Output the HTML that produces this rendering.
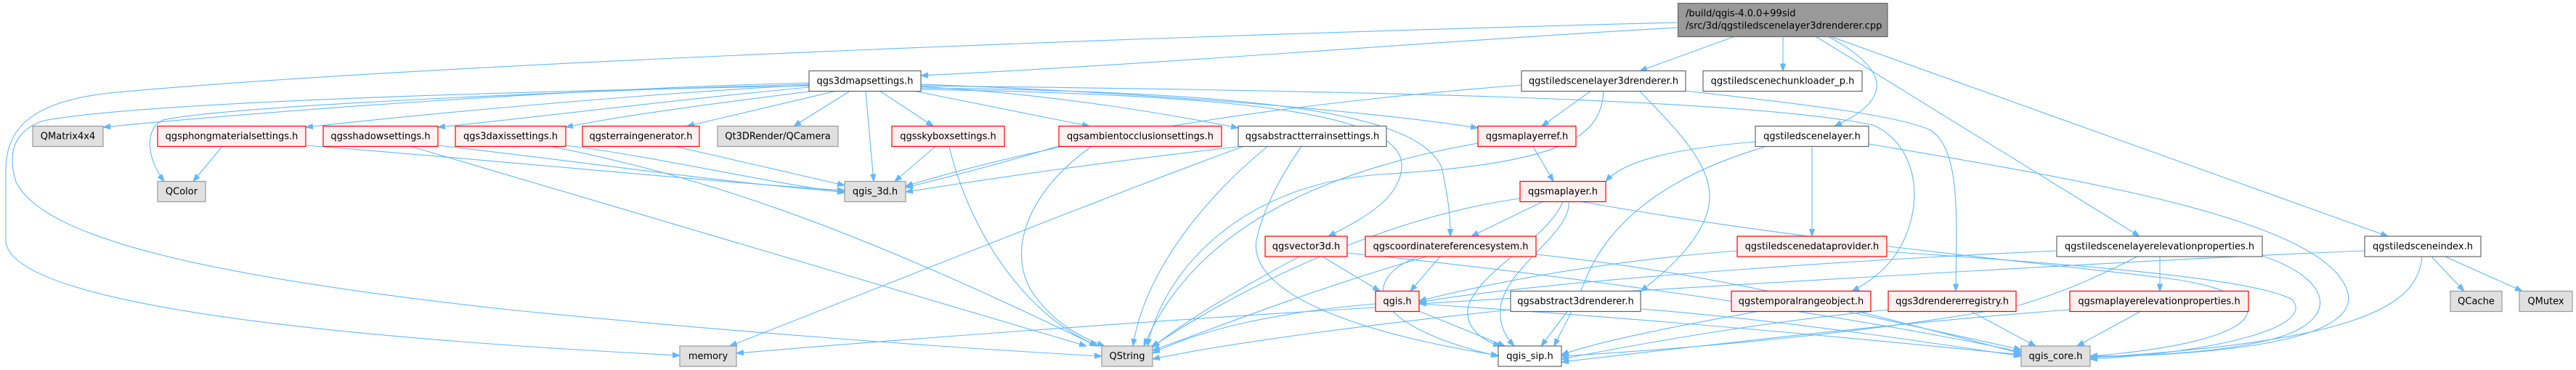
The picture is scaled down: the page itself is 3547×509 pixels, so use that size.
<!DOCTYPE html>
<html>
<head>
<meta charset="utf-8">
<style>
html,body{margin:0;padding:0;background:#fff;}
body{width:3547px;height:509px;overflow:hidden;}
svg{display:block;}
text{font-family:"DejaVu Sans","Liberation Sans",sans-serif;font-size:13px;fill:#000;}
</style>
</head>
<body>
<svg width="3547" height="509" viewBox="0 0 3547 509" xmlns="http://www.w3.org/2000/svg">
<defs>
<marker id="a" markerWidth="12" markerHeight="9" refX="10" refY="4" orient="auto" markerUnits="userSpaceOnUse">
<path d="M0,0.3 L10,4 L0,7.7 z" fill="#63b8ff" stroke="#63b8ff" stroke-width="1"/>
</marker>
</defs>
<g fill="none" stroke="#63b8ff" stroke-width="1.1" marker-end="url(#a)">
<!-- root -->
<path d="M2310,31 C1700,46 600,86 150,128 C45,140 8,175 8,235 L8,330 C8,405 330,458 936,489"/>
<path d="M2310,38 C2000,55 1600,88 1268,104"/>
<path d="M2389,50 L2258,97.5"/>
<path d="M2455,50 L2455,97.5"/>
<path d="M2517,50 C2610,100 2600,140 2526,173.5"/>
<path d="M2500,50 L2946,325"/>
<path d="M2520,50 L3288,325"/>
<!-- qgs3dmapsettings.h -->
<path d="M1114,114 C800,122 400,150 142,175"/>
<path d="M1114,117 C900,128 600,155 421,175"/>
<path d="M1114,120 C950,135 750,160 603,175"/>
<path d="M1118,125.5 C1000,140 850,160 779,175"/>
<path d="M1150,125.5 L946,173.5"/>
<path d="M1170,125.5 L1093,173.5"/>
<path d="M1192,125.5 L1203,249.5"/>
<path d="M1212,125.5 L1285,173.5"/>
<path d="M1260,125.5 L1500,173.5"/>
<path d="M1268,119 C1450,130 1600,155 1705,176"/>
<path d="M1268,116 C1600,128 1900,155 2035,176"/>
<path d="M1114,116 C700,128 300,148 225,165 C200,175 200,215 226,249.5"/>
<path d="M1114,118 C700,126 200,140 60,166 C18,180 10,212 22,250 C60,330 300,382 700,426 C1000,456 1300,478 1517,490"/>
<path d="M1268,121 C1700,126 1950,150 1985,230 C1995,275 1997,300 1997,325"/>
<path d="M1268,123 C1700,130 1925,155 1930,225 C1932,270 1880,300 1829,325"/>
<path d="M1268,118 C1800,124 2400,134 2579,172 C2625,192 2645,245 2632,300 C2620,350 2590,380 2550,400.5"/>
<!-- phong -->
<path d="M306,201.5 L266,249.5"/>
<path d="M421,200 C700,222 1000,252 1163,262"/>
<!-- shadow -->
<path d="M603,200 C800,222 1000,252 1163,264"/>
<path d="M566,201.5 L1496,476"/>
<!-- axis -->
<path d="M779,200 C900,215 1050,250 1163,265"/>
<path d="M760,201.5 C950,240 1150,300 1510,476"/>
<!-- terrain -->
<path d="M930,201.5 L1163,255"/>
<!-- skybox -->
<path d="M1288,201.5 L1232,249.5"/>
<path d="M1307,201.5 C1330,300 1400,430 1512,476"/>
<!-- ambient -->
<path d="M1460,200 C1380,225 1300,245 1247,258"/>
<path d="M1503,201.5 C1420,260 1385,340 1420,400 C1450,445 1490,465 1521,476"/>
<!-- abstract terrain -->
<path d="M1712,201 C1500,225 1350,248 1247,264"/>
<path d="M1712,201.5 C1550,260 1250,380 1005,476"/>
<path d="M1792,201.5 C1765,240 1740,285 1730,330 C1720,390 1820,450 2063,489"/>
<path d="M1745,201.5 C1650,280 1575,380 1560,476"/>
<!-- maplayerref -->
<path d="M2111,201.5 L2139,249.5"/>
<path d="M2035,197 C1850,230 1650,300 1575,476"/>
<!-- tiledscenelayer3drenderer -->
<path d="M2095,117 C1800,140 1500,180 1247,256"/>
<path d="M2190,125.5 L2123,173.5"/>
<path d="M2258,125.5 C2300,170 2354,220 2354,270 C2354,320 2300,370 2259,400.5"/>
<path d="M2321,125 C2500,145 2620,160 2660,180 C2700,210 2694,300 2693,400.5"/>
<path d="M2208,125.5 C2205,190 2150,225 1900,240 C1700,255 1600,380 1580,476"/>
<!-- tiledscenelayer -->
<path d="M2417,195 C2300,205 2235,222 2211,249.5"/>
<path d="M2495,201.5 L2495,325"/>
<path d="M2573,198 C2850,245 3200,300 3232,400 C3255,470 3050,488 2878,491"/>
<path d="M2432,201.5 C2300,240 2220,300 2185,380 C2165,430 2150,455 2140,476"/>
<!-- maplayer -->
<path d="M2124,277.5 L2026,325"/>
<path d="M2152,277.5 C2130,330 2040,370 2022,420 C2015,450 2040,468 2066,476"/>
<path d="M2160,277.5 C2165,320 2070,370 2066,425 C2064,450 2075,465 2085,476"/>
<path d="M2178,277.5 C2500,335 2850,365 3000,385 C3150,410 3130,470 2878,490"/>
<path d="M2093,273 C1900,300 1700,400 1585,478"/>
<!-- vector3d -->
<path d="M1821,353 L1900,400.5"/>
<path d="M1855,348 C2100,372 2500,425 2783,484"/>
<path d="M1789,353 C1700,400 1620,450 1587,478"/>
<!-- CRS -->
<path d="M1983,353 L1942,400.5"/>
<path d="M2115,350 C2400,380 2600,440 2783,486"/>
<path d="M1964,353 C1800,400 1650,460 1587,482"/>
<path d="M1953,353 C1880,380 1870,445 2063,490"/>
<!-- qgis.h -->
<path d="M1954,428 L2072,476"/>
<path d="M1954,418 C2300,440 2600,470 2783,488"/>
<path d="M1894,418 C1750,430 1650,455 1587,486"/>
<path d="M1894,423 C1600,440 1200,470 1014,486"/>
<!-- abstract3drenderer -->
<path d="M2158,428.5 L2122,476"/>
<path d="M2080,426 C1900,445 1700,470 1587,494"/>
<path d="M2259,425 C2450,440 2650,470 2783,490"/>
<!-- dataprovider -->
<path d="M2598,346 C2800,360 3100,380 3156,412 C3190,450 3050,485 2878,494"/>
<path d="M2392,345 C2200,360 2050,390 1954,414"/>
<!-- temporal -->
<path d="M2543,428.5 L2783,481"/>
<path d="M2420,428.5 C2300,450 2200,470 2150,488"/>
<!-- registry -->
<path d="M2714,428.5 L2803,476"/>
<path d="M2612,425 C2450,440 2300,465 2150,494"/>
<!-- maplayerelevationproperties -->
<path d="M2947,428.5 L2860,476"/>
<path d="M2850,426 C2600,445 2350,475 2150,498"/>
<!-- tiledscenelayerelevationproperties -->
<path d="M2974,353 L2974,400.5"/>
<path d="M3115,352 C3200,380 3225,430 3150,460 C3080,485 2950,490 2878,490"/>
<path d="M2943,353 C2870,390 2830,405 2780,420 C2600,455 2350,478 2150,490"/>
<path d="M2832,345 C2500,360 2100,390 1954,416"/>
<!-- tiledsceneindex -->
<path d="M3335,353 C3330,420 3250,470 2878,492"/>
<path d="M3348,353 L3393,400.5"/>
<path d="M3367,353 L3473,400.5"/>
<path d="M3256,345 C3000,355 2500,385 1954,418"/>
</g>

<!-- nodes -->
<g stroke-width="1.2">
<!-- root -->
<rect x="2310.5" y="4.5" width="288.5" height="46" fill="#999999" stroke="#666666"/>
<!-- R1 -->
<rect x="1114" y="97.5" width="154" height="28" fill="#ffffff" stroke="#666666"/>
<rect x="2095" y="97.5" width="226" height="28" fill="#ffffff" stroke="#666666"/>
<rect x="2345" y="97.5" width="219" height="28" fill="#ffffff" stroke="#666666"/>
<!-- R2 -->
<rect x="45" y="173.5" width="97" height="28" fill="#e0e0e0" stroke="#999999"/>
<rect x="217" y="173.5" width="204" height="28" fill="#fff0f0" stroke="#ff0000"/>
<rect x="445" y="173.5" width="158" height="28" fill="#fff0f0" stroke="#ff0000"/>
<rect x="627" y="173.5" width="152" height="28" fill="#fff0f0" stroke="#ff0000"/>
<rect x="802" y="173.5" width="161" height="28" fill="#fff0f0" stroke="#ff0000"/>
<rect x="988" y="173.5" width="166" height="28" fill="#e0e0e0" stroke="#999999"/>
<rect x="1228" y="173.5" width="155" height="28" fill="#fff0f0" stroke="#ff0000"/>
<rect x="1458" y="173.5" width="224" height="28" fill="#fff0f0" stroke="#ff0000"/>
<rect x="1705" y="173.5" width="204" height="28" fill="#ffffff" stroke="#666666"/>
<rect x="2035" y="173.5" width="135" height="28" fill="#fff0f0" stroke="#ff0000"/>
<rect x="2417" y="173.5" width="156" height="28" fill="#ffffff" stroke="#666666"/>
<!-- R3 -->
<rect x="217" y="249.5" width="66" height="28" fill="#e0e0e0" stroke="#999999"/>
<rect x="1163" y="249.5" width="84" height="28" fill="#e0e0e0" stroke="#999999"/>
<rect x="2093" y="249.5" width="118" height="28" fill="#fff0f0" stroke="#ff0000"/>
<!-- R4 -->
<rect x="1742" y="325" width="113" height="28" fill="#fff0f0" stroke="#ff0000"/>
<rect x="1880" y="325" width="235" height="28" fill="#fff0f0" stroke="#ff0000"/>
<rect x="2392" y="325" width="206" height="28" fill="#fff0f0" stroke="#ff0000"/>
<rect x="2832" y="325" width="283" height="28" fill="#ffffff" stroke="#666666"/>
<rect x="3256" y="325" width="160" height="28" fill="#ffffff" stroke="#666666"/>
<!-- R5 -->
<rect x="1894" y="400.5" width="60" height="28" fill="#fff0f0" stroke="#ff0000"/>
<rect x="2080" y="400.5" width="179" height="28" fill="#ffffff" stroke="#666666"/>
<rect x="2384" y="400.5" width="192" height="28" fill="#fff0f0" stroke="#ff0000"/>
<rect x="2600" y="400.5" width="176" height="28" fill="#fff0f0" stroke="#ff0000"/>
<rect x="2850" y="400.5" width="246" height="28" fill="#fff0f0" stroke="#ff0000"/>
<rect x="3374" y="400.5" width="71" height="28" fill="#e0e0e0" stroke="#999999"/>
<rect x="3469" y="400.5" width="73" height="28" fill="#e0e0e0" stroke="#999999"/>
<!-- R6 -->
<rect x="936" y="476" width="78" height="28" fill="#e0e0e0" stroke="#999999"/>
<rect x="1517" y="476" width="70" height="28" fill="#e0e0e0" stroke="#999999"/>
<rect x="2063" y="476" width="87" height="28" fill="#ffffff" stroke="#666666"/>
<rect x="2783" y="476" width="95" height="28" fill="#e0e0e0" stroke="#999999"/>
</g>

<g>
<text x="2321" y="22.5">/build/qgis-4.0.0+99sid</text>
<text x="2321" y="39.5">/src/3d/qgstiledscenelayer3drenderer.cpp</text>
</g>
<g text-anchor="middle">
<text x="1191" y="115.5">qgs3dmapsettings.h</text>
<text x="2208" y="115.5">qgstiledscenelayer3drenderer.h</text>
<text x="2454.5" y="115.5">qgstiledscenechunkloader_p.h</text>

<text x="93.5" y="191.5">QMatrix4x4</text>
<text x="319" y="191.5">qgsphongmaterialsettings.h</text>
<text x="524" y="191.5">qgsshadowsettings.h</text>
<text x="703" y="191.5">qgs3daxissettings.h</text>
<text x="882.5" y="191.5">qgsterraingenerator.h</text>
<text x="1071" y="191.5">Qt3DRender/QCamera</text>
<text x="1305.5" y="191.5">qgsskyboxsettings.h</text>
<text x="1570" y="191.5">qgsambientocclusionsettings.h</text>
<text x="1807" y="191.5">qgsabstractterrainsettings.h</text>
<text x="2102.5" y="191.5">qgsmaplayerref.h</text>
<text x="2495" y="191.5">qgstiledscenelayer.h</text>

<text x="250" y="267.5">QColor</text>
<text x="1205" y="267.5">qgis_3d.h</text>
<text x="2152" y="267.5">qgsmaplayer.h</text>

<text x="1798.5" y="343">qgsvector3d.h</text>
<text x="1997.5" y="343">qgscoordinatereferencesystem.h</text>
<text x="2495" y="343">qgstiledscenedataprovider.h</text>
<text x="2973.5" y="343">qgstiledscenelayerelevationproperties.h</text>
<text x="3336" y="343">qgstiledsceneindex.h</text>

<text x="1924" y="418.5">qgis.h</text>
<text x="2169.5" y="418.5">qgsabstract3drenderer.h</text>
<text x="2480" y="418.5">qgstemporalrangeobject.h</text>
<text x="2688" y="418.5">qgs3drendererregistry.h</text>
<text x="2973" y="418.5">qgsmaplayerelevationproperties.h</text>
<text x="3409.5" y="418.5">QCache</text>
<text x="3505.5" y="418.5">QMutex</text>

<text x="975" y="494">memory</text>
<text x="1552" y="494">QString</text>
<text x="2106.5" y="494">qgis_sip.h</text>
<text x="2830.5" y="494">qgis_core.h</text>
</g>
</svg>
</body>
</html>
